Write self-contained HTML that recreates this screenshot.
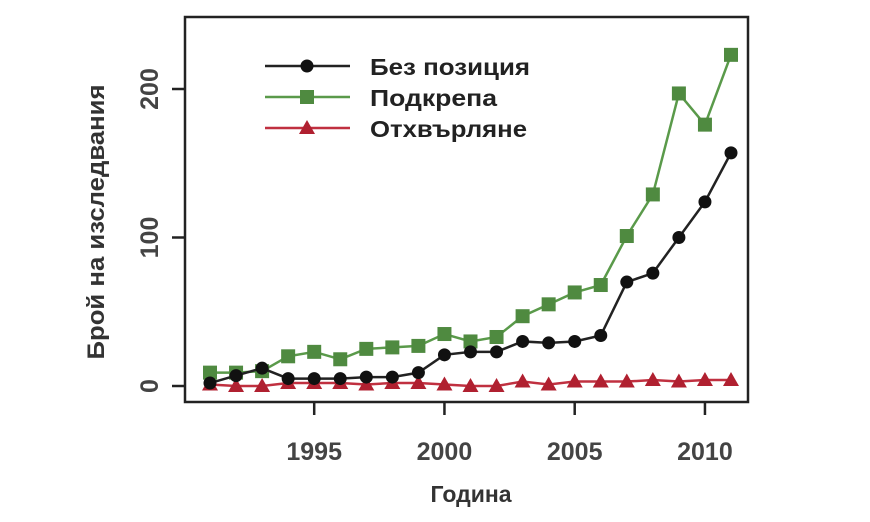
<!DOCTYPE html>
<html><head><meta charset="utf-8"><style>
body{margin:0;background:#fff;}
svg{display:block;font-family:"Liberation Sans",sans-serif;}
</style></head><body>
<svg id="chart" width="870" height="522">
<rect x="185" y="17" width="563" height="385" fill="none" stroke="#222" stroke-width="2.5"/>
<g id="axes"></g><g id="series"></g>
<text x="471" y="502" text-anchor="middle" font-size="23" font-weight="bold" fill="#333">Година</text>
<text transform="translate(104,222) rotate(-90)" text-anchor="middle" font-size="24" font-weight="bold" fill="#333" textLength="275" lengthAdjust="spacingAndGlyphs">Брой на изследвания</text>
<g>
<line x1="265" y1="66" x2="350" y2="66" stroke="#222" stroke-width="2.5"/><circle cx="307" cy="66" r="6.5" fill="#111"/>
<text x="370" y="75" font-size="23" font-weight="bold" fill="#222" textLength="160" lengthAdjust="spacingAndGlyphs">Без позиция</text>
<line x1="265" y1="97" x2="350" y2="97" stroke="#5a9a4a" stroke-width="2.5"/><rect x="300" y="90" width="14" height="14" fill="#4f8a40"/>
<text x="370" y="106" font-size="23" font-weight="bold" fill="#222" textLength="127" lengthAdjust="spacingAndGlyphs">Подкрепа</text>
<line x1="265" y1="128" x2="350" y2="128" stroke="#c03040" stroke-width="2.5"/><polygon points="307,120 315,134 299,134" fill="#b02030"/>
<text x="370" y="137" font-size="23" font-weight="bold" fill="#222" textLength="157" lengthAdjust="spacingAndGlyphs">Отхвърляне</text>
</g>
</svg>
<script>
const years=[1991,1992,1993,1994,1995,1996,1997,1998,1999,2000,2001,2002,2003,2004,2005,2006,2007,2008,2009,2010,2011];
const noPosition=[2,7,12,5,5,5,6,6,9,21,23,23,30,29,30,34,70,76,100,124,157];
const support=[9,9,10,20,23,18,25,26,27,35,30,33,47,55,63,68,101,129,197,176,223];
const rejection=[1,0,0,2,2,2,1,2,2,1,0,0,3,1,3,3,3,4,3,4,4];
const xTicks=[1995,2000,2005,2010];
const yTicks=[0,100,200];
const NS='http://www.w3.org/2000/svg';
const xs=v=>210+(v-1991)*26.05;
const ys=v=>386-v*1.485;
function mk(t,a,p){const e=document.createElementNS(NS,t);for(const k in a)e.setAttribute(k,a[k]);p.appendChild(e);return e;}
const ax=document.getElementById('axes'),sg=document.getElementById('series');
xTicks.forEach(t=>{
 const l=mk('line',{x1:xs(t),y1:402,x2:xs(t),y2:415,stroke:'#222','stroke-width':2.5},ax);
 
 
 const tx=mk('text',{x:xs(t),y:460,'text-anchor':'middle','font-size':25,'font-weight':'bold',fill:'#444'},ax);
 tx.textContent=t;
 
 
});
yTicks.forEach(t=>{
 const l=mk('line',{x1:172,y1:ys(t),x2:185,y2:ys(t),stroke:'#222','stroke-width':2.5},ax);
 
 
 const tx=mk('text',{transform:`translate(158,${ys(t)}) rotate(-90)`,'text-anchor':'middle','font-size':25,'font-weight':'bold',fill:'#444'},ax);
 tx.textContent=t;
 
 
});
function draw(vals,color,fill,shape,name){
 const g=mk('g',{},sg);
 
 
 const pl=mk('polyline',{points:vals.map((v,i)=>xs(years[i])+','+ys(v)).join(' '),fill:'none',stroke:color,'stroke-width':2.5},g);
 
 
 vals.forEach((v,i)=>{
  const x=xs(years[i]),y=ys(v);let m;
  if(shape==='c')m=mk('circle',{cx:x,cy:y,r:6.5,fill:fill},g);
  else if(shape==='s')m=mk('rect',{x:x-7,y:y-7,width:14,height:14,fill:fill},g);
  else m=mk('polygon',{points:`${x},${y-8} ${x+8},${y+6} ${x-8},${y+6}`,fill:fill},g);
  
  
 });
}
draw(rejection,'#c03040','#b02030','t','rejection');
draw(support,'#5a9a4a','#4f8a40','s','support');
draw(noPosition,'#222','#111','c','no-position');
</script>
</body></html>
